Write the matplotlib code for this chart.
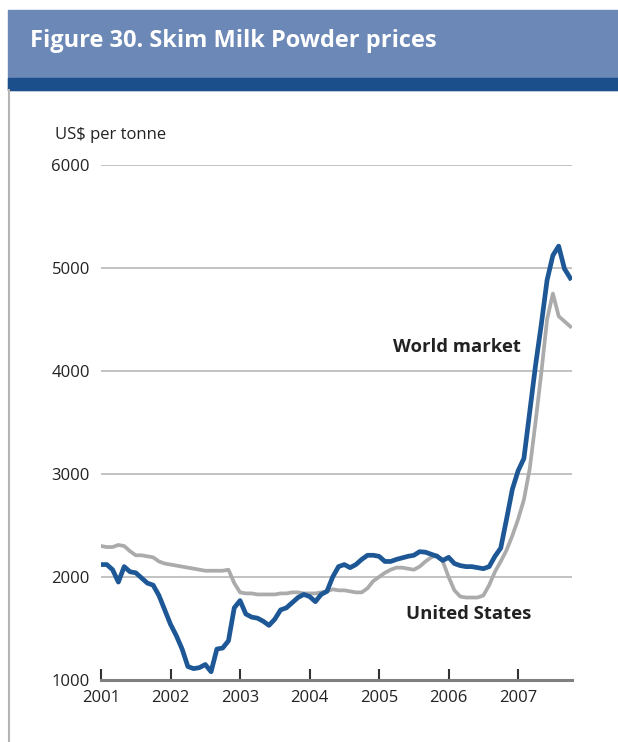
#!/usr/bin/env python3
"""
Skim Milk Powder prices, monthly, Jan 2001 - Oct 2007 (US$ per tonne).
Values read off the published figure.
"""

import matplotlib.pyplot as plt
from matplotlib.patches import Rectangle
from matplotlib.lines import Line2D

plt.rcParams['font.family'] = ['Open Sans', 'DejaVu Sans']

# month index 0 = Jan 2001
years = ['2001', '2002', '2003', '2004', '2005', '2006', '2007']

world_market = [
    2120, 2120, 2070, 1950, 2100, 2050, 2040, 1990, 1940, 1920, 1820, 1680,   # 2001
    1540, 1430, 1300, 1130, 1110, 1120, 1150, 1080, 1300, 1310, 1380, 1700,   # 2002
    1770, 1640, 1610, 1600, 1570, 1530, 1590, 1680, 1700, 1750, 1800, 1830,   # 2003
    1810, 1760, 1830, 1860, 2000, 2100, 2120, 2090, 2120, 2170, 2210, 2210,   # 2004
    2200, 2150, 2150, 2170, 2185, 2200, 2210, 2245, 2240, 2220, 2200, 2160,   # 2005
    2190, 2130, 2110, 2100, 2100, 2090, 2080, 2100, 2200, 2280, 2560, 2850,   # 2006
    3030, 3150, 3600, 4050, 4450, 4880, 5120, 5210, 4990, 4900,               # 2007
]

united_states = [
    2300, 2290, 2290, 2310, 2300, 2250, 2210, 2210, 2200, 2190, 2150, 2130,   # 2001
    2120, 2110, 2100, 2090, 2080, 2070, 2060, 2060, 2060, 2060, 2070, 1940,   # 2002
    1850, 1840, 1840, 1830, 1830, 1830, 1830, 1840, 1840, 1850, 1850, 1840,   # 2003
    1840, 1840, 1850, 1860, 1880, 1870, 1870, 1860, 1850, 1850, 1890, 1960,   # 2004
    2000, 2040, 2070, 2090, 2090, 2080, 2070, 2100, 2150, 2190, 2210, 2150,   # 2005
    2000, 1870, 1810, 1800, 1800, 1800, 1820, 1920, 2050, 2150, 2260, 2400,   # 2006
    2560, 2750, 3050, 3500, 3980, 4500, 4750, 4530, 4480, 4430,               # 2007
]

BLUE = '#1d5795'
GREY = '#ababab'
H = 742.0

fig = plt.figure(figsize=(6.18, 7.42), dpi=100)

# header band: light blue block with a dark blue stripe along its bottom
fig.patches.append(Rectangle((8 / 618, 1 - 90 / H), 1, 80 / H, transform=fig.transFigure,
                             color='#6b88b6', zorder=0))
fig.patches.append(Rectangle((8 / 618, 1 - 90 / H), 1, 12 / H, transform=fig.transFigure,
                             color='#1b4f8c', zorder=1))
fig.lines.append(Line2D([8.5 / 618, 8.5 / 618], [0, 1 - 90 / H], transform=fig.transFigure,
                        color='#b5b5b5', lw=1.5))
fig.text(30 / 618, 1 - 47 / H, 'Figure 30. Skim Milk Powder prices', color='white',
         fontsize=17, fontweight='bold', va='baseline', ha='left')

ax = fig.add_axes([101 / 618, 0.0836, 471 / 618, 0.6944])

months = list(range(len(world_market)))
ax.plot(months, united_states, color=GREY, lw=2.7, solid_joinstyle='round', zorder=3)
ax.plot(months, world_market, color=BLUE, lw=3.4, solid_joinstyle='round', zorder=4)

ax.set_xlim(0, 81.3)
ax.set_ylim(1000, 6000)
ax.set_yticks([1000, 2000, 3000, 4000, 5000, 6000])
ax.set_xticks([12 * i for i in range(len(years))])
ax.set_xticklabels(years)

for v in [2000, 3000, 4000, 5000, 6000]:
    ax.axhline(v, color='#b8b8b8', lw=1.2, zorder=1)

for side in ['top', 'right', 'left']:
    ax.spines[side].set_visible(False)
ax.spines['bottom'].set_color('#808080')
ax.spines['bottom'].set_linewidth(2.2)

ax.tick_params(axis='y', length=0, pad=8, labelsize=12, labelcolor='#222222')
ax.tick_params(axis='x', direction='in', length=8, width=1.5, color='#333333',
               pad=7, labelsize=12, labelcolor='#222222')

fig.text(55 / 618, 0.818, 'US$ per tonne', fontsize=12, color='#222222',
         ha='left', va='center')

ax.text(61.5, 4230, 'World market', fontsize=13.3, fontweight='bold',
        color='#222222', ha='center', va='center')
ax.text(63.5, 1640, 'United States', fontsize=13.3, fontweight='bold',
        color='#222222', ha='center', va='center')

plt.savefig('out.png', dpi=100)
